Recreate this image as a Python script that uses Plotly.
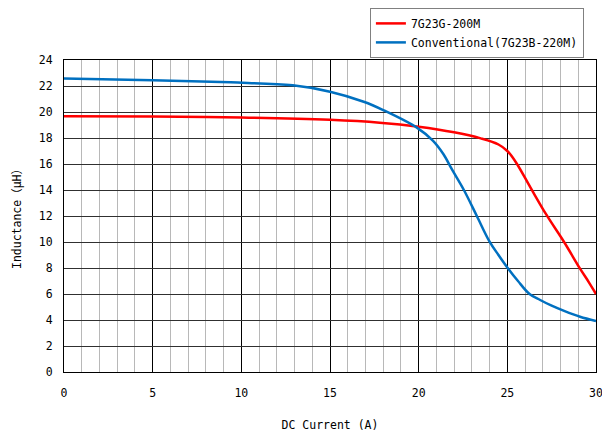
import plotly.graph_objects as go

red_x = [0, 5, 10, 15, 17.8, 20, 22, 23.5, 24.5, 25.0, 25.5, 26.3, 27.2, 28.2, 29.1, 29.6, 30]
red_y = [19.68, 19.65, 19.58, 19.4, 19.18, 18.87, 18.44, 17.97, 17.5, 17.0, 16.1, 14.2, 12.1, 10.0, 7.95, 6.9, 6.0]

blue_x = [0, 5, 9.4, 12.9, 15, 16.9, 18, 19.9, 20.8, 21.4, 21.87, 22.55, 23.28, 23.99, 24.5, 25.02,
          25.6, 26.25, 26.85, 27.5, 28.2, 29.1, 30]
blue_y = [22.57, 22.45, 22.28, 22.05, 21.56, 20.79, 20.15, 18.8, 17.8, 16.75, 15.6, 14.0, 12.0, 10.05, 9.0, 8.0,
          7.0, 6.0, 5.54, 5.1, 4.7, 4.25, 3.92]

red_name = "7G23G-200M"
blue_name = "Conventional(7G23B-220M)"
x_title = "DC Current (A)"
y_title = "Inductance（μH）"

FONT = "DejaVu Sans Mono, Noto Sans CJK JP"

fig = go.Figure()
fig.add_trace(go.Scatter(x=red_x, y=red_y, mode="lines", name=red_name,
                         line=dict(color="#ff0000", width=2.5, shape="spline", smoothing=1.0)))
fig.add_trace(go.Scatter(x=blue_x, y=blue_y, mode="lines", name=blue_name,
                         line=dict(color="#0070c0", width=2.5, shape="spline", smoothing=1.0)))

fig.update_layout(
    width=602, height=432,
    margin=dict(l=64, r=6, t=60, b=60, autoexpand=False),
    paper_bgcolor="white", plot_bgcolor="white",
    font=dict(family=FONT, size=11.5, color="black"),
    showlegend=True,
    legend=dict(x=0.575, y=1.167, xanchor="left", yanchor="top",
                bordercolor="#808080", borderwidth=1, bgcolor="white",
                font=dict(family=FONT, size=11.5), itemwidth=30,
                tracegroupgap=0),
)
fig.update_xaxes(range=[0, 30], dtick=5, tick0=0, showgrid=True, gridcolor="black", gridwidth=1,
                 minor=dict(dtick=1, showgrid=True, gridcolor="#b8b8b8", gridwidth=1),
                 showline=True, linecolor="black", linewidth=1, mirror=True,
                 ticks="", ticklabelstandoff=10, zeroline=False, automargin=False,
                 ticklabeloverflow="allow",
                 title=dict(text=x_title, standoff=22, font=dict(size=11.5)))
fig.update_yaxes(range=[0, 24], dtick=2, tick0=0, showgrid=True, gridcolor="#303030", gridwidth=1,
                 showline=True, linecolor="black", linewidth=1, mirror=True,
                 ticks="", ticklabelstandoff=8, zeroline=False, automargin=False,
                 ticklabeloverflow="allow",
                 title=dict(text=y_title, standoff=14, font=dict(size=11.5)))

fig.write_html("out.html")
